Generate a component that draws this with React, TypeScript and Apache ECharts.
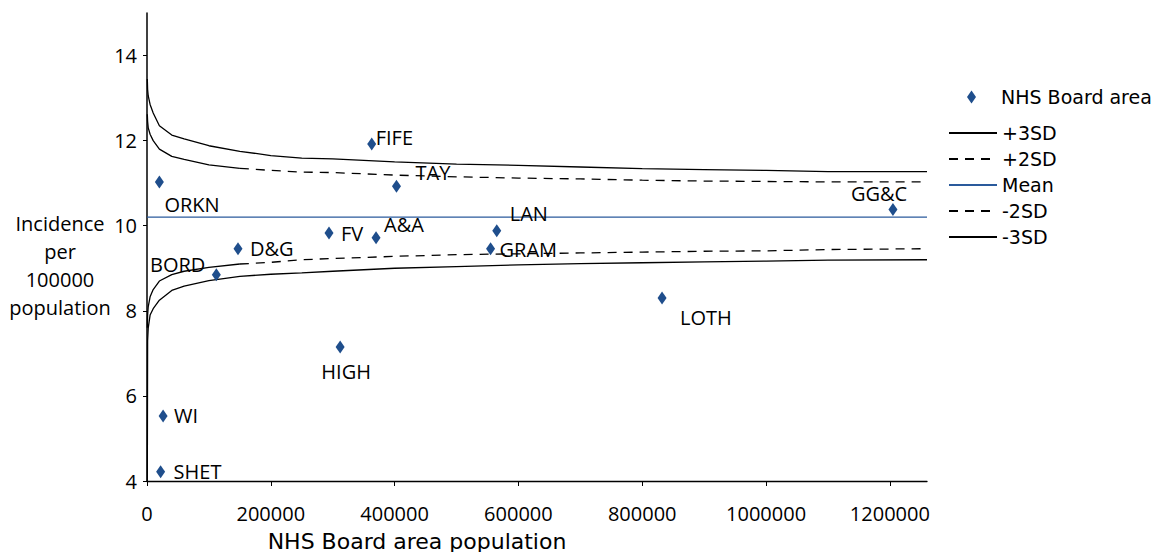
import React, { useEffect, useRef } from "react";
import * as echarts from "echarts";

// NHS Board areas: population and incidence per 100000
const boards = ["ORKN", "FIFE", "TAY", "FV", "A&A", "LAN", "GRAM", "D&G", "BORD", "HIGH", "LOTH", "GG&C", "WI", "SHET"];
const population = [20000, 363000, 403000, 294000, 370000, 565000, 555000, 147000, 112000, 312000, 832000, 1205000, 26000, 22000];
const incidence = [11.03, 11.92, 10.93, 9.83, 9.72, 9.88, 9.46, 9.46, 8.85, 7.15, 8.3, 10.38, 5.53, 4.22];

// Control limits (funnel)
const sdPop = [500, 1000, 2000, 5000, 10000, 20000, 40000, 60000, 100000, 150000, 200000, 250000, 300000, 400000, 500000, 600000, 700000, 800000, 900000, 1000000, 1100000, 1260000];
const plus3 = [13.45, 13.2, 13.05, 12.85, 12.65, 12.35, 12.13, 12.04, 11.88, 11.75, 11.65, 11.59, 11.57, 11.5, 11.45, 11.42, 11.38, 11.34, 11.32, 11.3, 11.27, 11.27];
const plus2 = [12.62, 12.45, 12.3, 12.15, 12.0, 11.8, 11.63, 11.56, 11.43, 11.35, 11.3, 11.26, 11.25, 11.19, 11.15, 11.12, 11.1, 11.07, 11.05, 11.04, 11.03, 11.03];
const minus2 = [7.6, 7.9, 8.1, 8.33, 8.5, 8.7, 8.85, 8.93, 9.02, 9.1, 9.14, 9.2, 9.23, 9.28, 9.32, 9.34, 9.36, 9.38, 9.4, 9.41, 9.44, 9.46];
const minus3 = [4.0, 7.3, 7.6, 7.9, 8.05, 8.25, 8.48, 8.58, 8.71, 8.81, 8.86, 8.89, 8.93, 9.0, 9.04, 9.08, 9.11, 9.13, 9.15, 9.17, 9.19, 9.2];
const meanPop = [0, 1260000];
const meanVal = [10.2, 10.2];

// Ticks
const xTicks = [0, 200000, 400000, 600000, 800000, 1000000, 1200000];
const yTicks = [4, 6, 8, 10, 12, 14];

// label placement per board: [dx, dy, align]
const labelPlace: Record<string, [number, number, string]> = {
  ORKN: [5, 23, "left"],
  FIFE: [4, -7, "left"],
  TAY: [19, -14, "left"],
  FV: [12, 1, "left"],
  "A&A": [8, -13, "left"],
  LAN: [13, -17, "left"],
  GRAM: [9, 1, "left"],
  "D&G": [12, 0, "left"],
  BORD: [-11, -10, "right"],
  HIGH: [6, 25, "center"],
  LOTH: [18, 19, "left"],
  "GG&C": [-42, -16, "left"],
  WI: [11, 0, "left"],
  SHET: [13, 0, "left"],
};

const SPLIT = sdPop.indexOf(150000);
const pairs = (xs: number[], ys: number[]) => xs.map((x, i) => [x, ys[i]]);

export default function App() {
  const ref = useRef<HTMLDivElement>(null);
  useEffect(() => {
    if (!ref.current) return;
    const chart = echarts.init(ref.current, null, { renderer: "svg" });
    const labelFont = { fontFamily: "Open Sans", fontSize: 20, color: "#000" };
    const blk = "#000";
    const lineBase = (name: string, data: number[][], color: string, dashed: boolean) => ({
      type: "line",
      name,
      data,
      symbol: "none",
      showSymbol: false,
      silent: true,
      z: 2,
      lineStyle: { color, width: 1.3, type: dashed ? [9, 7] : "solid" },
      itemStyle: { color },
    });
    const legendText = { fontFamily: "DejaVu Sans", fontSize: 19, color: "#000", lineHeight: 20 };
    chart.setOption({
      animation: false,
      backgroundColor: "#fff",
      grid: { left: 147, right: 233, top: 13, bottom: 71, containLabel: false },
      xAxis: {
        type: "value",
        min: 0,
        max: 1260000,
        axisLine: { show: true, onZero: false, lineStyle: { color: blk, width: 1.3 } },
        axisTick: { show: true, length: 5, customValues: xTicks, lineStyle: { color: blk } },
        axisLabel: { ...labelFont, margin: 22, customValues: xTicks, formatter: (v: number) => String(v) },
        splitLine: { show: false },
      },
      yAxis: {
        type: "value",
        min: 4,
        max: 15,
        axisLine: { show: true, onZero: false, lineStyle: { color: blk, width: 1.5 } },
        axisTick: { show: true, length: 4, customValues: yTicks, lineStyle: { color: blk } },
        axisLabel: { ...labelFont, margin: 10, customValues: yTicks },
        splitLine: { show: false },
      },
      legend: [
        {
          data: ["NHS Board area"],
          left: 967,
          top: 87,
          padding: 0,
          orient: "vertical",
          itemWidth: 9,
          itemHeight: 13,
          selectedMode: false,
          textStyle: { ...legendText, padding: [0, 0, 0, 20] },
        },
        {
          data: ["+3SD", "+2SD", "Mean", "-2SD", "-3SD"],
          left: 948,
          top: 123,
          padding: 0,
          orient: "vertical",
          itemWidth: 48,
          itemHeight: 14,
          itemGap: 6,
          selectedMode: false,
          itemStyle: { opacity: 0 },
          textStyle: legendText,
        },
      ],
      series: [
        {
          type: "scatter",
          name: "NHS Board area",
          symbol: "diamond",
          symbolSize: [9, 13],
          z: 5,
          itemStyle: { color: "#1f4e8c", opacity: 1 },
          data: boards.map((name, i) => {
            const p = labelPlace[name];
            return {
              name,
              value: [population[i], incidence[i]],
              label: {
                show: true,
                formatter: "{b}",
                position: "inside",
                align: p[2],
                verticalAlign: "middle",
                offset: [p[0], p[1]],
                textBorderWidth: 0,
                ...labelFont,
              },
            };
          }),
        },
        lineBase("+3SD", pairs(sdPop, plus3), blk, false),
        lineBase("+2SD", pairs(sdPop, plus2).slice(SPLIT), blk, true),
        lineBase("+2SD", pairs(sdPop, plus2).slice(0, SPLIT + 1), blk, false),
        lineBase("Mean", pairs(meanPop, meanVal), "#2a5a9c", false),
        lineBase("-2SD", pairs(sdPop, minus2).slice(SPLIT), blk, true),
        lineBase("-2SD", pairs(sdPop, minus2).slice(0, SPLIT + 1), blk, false),
        lineBase("-3SD", pairs(sdPop, minus3), blk, false),
      ],
      graphic: [
        {
          type: "text",
          x: 60,
          y: 265,
          style: {
            text: "Incidence\nper\n100000\npopulation",
            fontFamily: "Open Sans",
            fontSize: 20,
            lineHeight: 28,
            fill: "#000",
            textAlign: "center",
            textVerticalAlign: "middle",
          },
        },
        {
          type: "text",
          x: 417,
          y: 541,
          style: {
            text: "NHS Board area population",
            fontFamily: "DejaVu Sans",
            fontSize: 22,
            fill: "#000",
            textAlign: "center",
            textVerticalAlign: "middle",
          },
        },
      ],
    });
    return () => chart.dispose();
  }, []);
  return <div ref={ref} style={{ position: "absolute", left: 0, top: 0, width: 1160, height: 552 }} />;
}
